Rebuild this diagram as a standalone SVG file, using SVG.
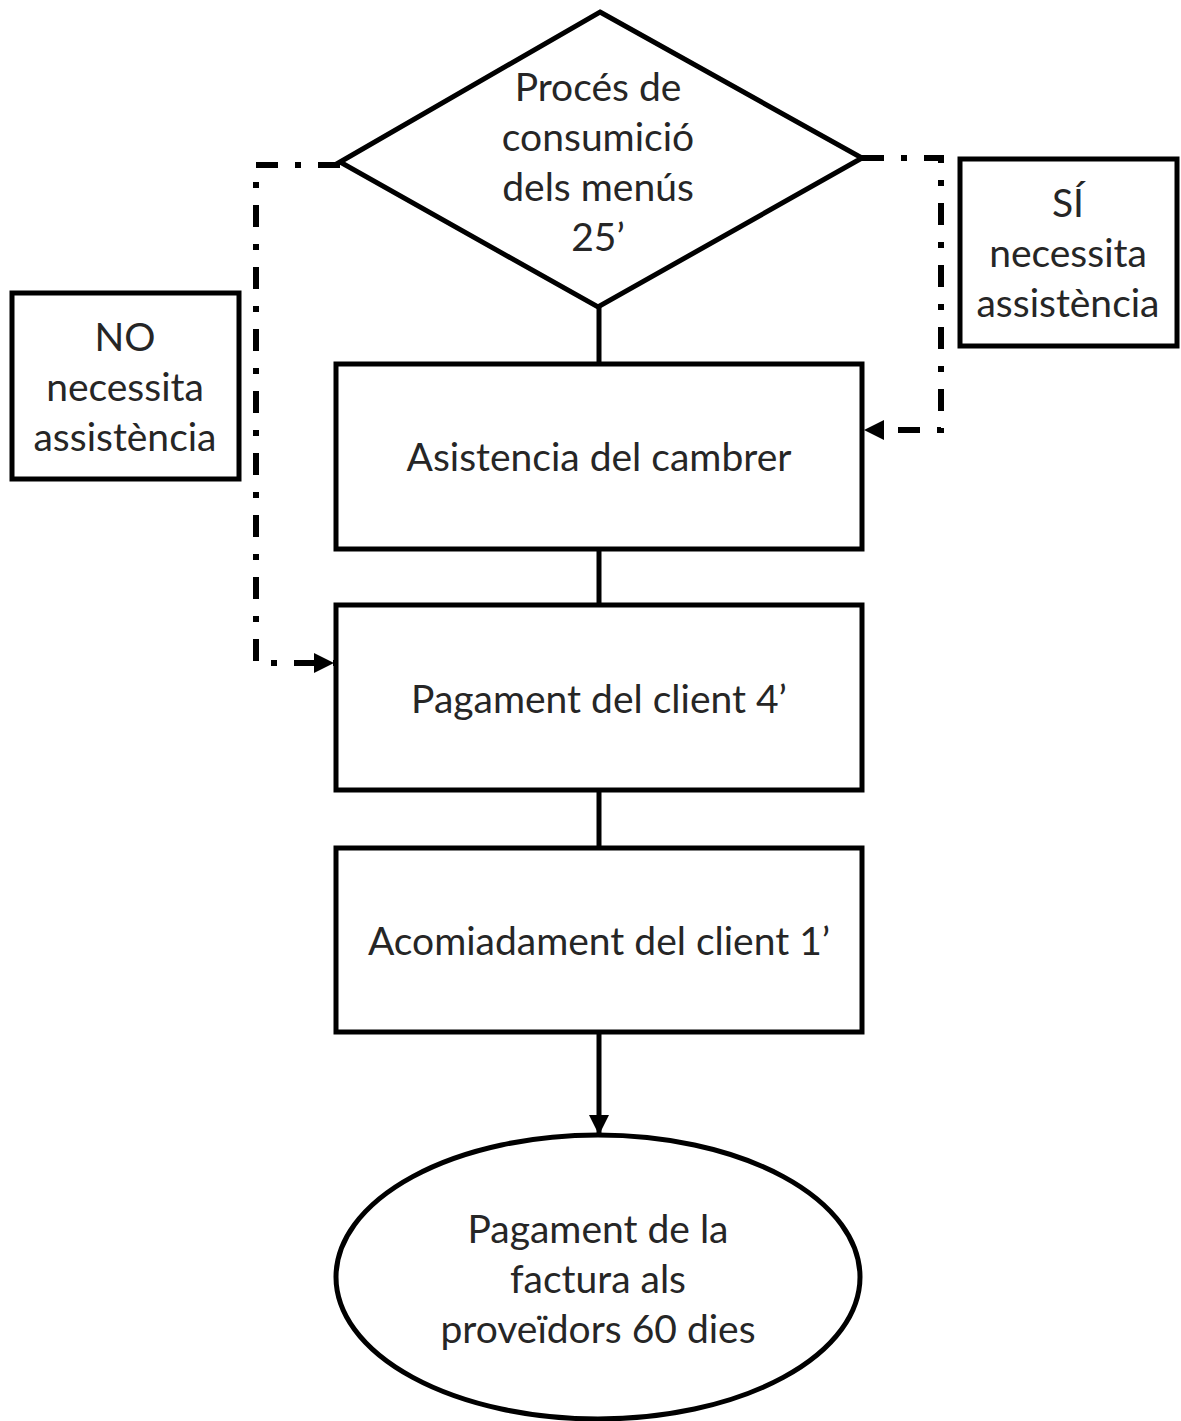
<svg xmlns="http://www.w3.org/2000/svg" width="1181" height="1421" viewBox="0 0 1181 1421">
  <defs>
    <style>
      .shape { fill: #ffffff; stroke: #000000; stroke-width: 5; }
      .link { fill: none; stroke: #000000; stroke-width: 5; }
      .dashdot { fill: none; stroke: #000000; stroke-width: 6; stroke-dasharray: 22 17 6 17; }
      .label { font-family: Lato, "Open Sans", sans-serif; font-size: 39px; fill: #262626; text-anchor: middle; }
    </style>
    <marker id="arrow" viewBox="0 0 10 10" refX="10" refY="5" markerWidth="4" markerHeight="4" orient="auto" markerUnits="strokeWidth">
      <path d="M0,0 L10,5 L0,10 Z" fill="#000000"/>
    </marker>
    <marker id="arrow-dd" viewBox="0 0 10 10" refX="10" refY="5" markerWidth="3.4" markerHeight="3.4" orient="auto" markerUnits="strokeWidth">
      <path d="M0,0 L10,5 L0,10 Z" fill="#000000"/>
    </marker>
  </defs>
  <rect width="1181" height="1421" fill="#ffffff"/>

  <!-- connectors -->
  <g id="connectors">
    <line class="link" x1="599" y1="307" x2="599" y2="364"/>
    <line class="link" x1="599" y1="549" x2="599" y2="605"/>
    <line class="link" x1="599" y1="790" x2="599" y2="848"/>
    <line class="link" x1="599" y1="1032" x2="599" y2="1135" marker-end="url(#arrow)"/>
    <!-- no assistance: skip straight to payment -->
    <path class="dashdot" d="M340,165 H256 V663 H334" marker-end="url(#arrow-dd)"/>
    <!-- assistance needed: waiter step -->
    <path class="dashdot" d="M862,158 H941 V430 H864" marker-end="url(#arrow-dd)"/>
  </g>

  <g id="decision">
    <polygon class="shape" points="600,12 862,158 598,307 340,162"/>
    <text class="label" x="598" y="101">Procés de</text>
    <text class="label" x="598" y="151">consumició</text>
    <text class="label" x="598" y="201">dels menús</text>
    <text class="label" x="598" y="251">25’</text>
  </g>

  <g id="waiter">
    <rect class="shape" x="336" y="364" width="526" height="185"/>
    <text class="label" x="599" y="471">Asistencia del cambrer</text>
  </g>

  <g id="payment">
    <rect class="shape" x="336" y="605" width="526" height="185"/>
    <text class="label" x="599" y="713">Pagament del client 4’</text>
  </g>

  <g id="farewell">
    <rect class="shape" x="336" y="848" width="526" height="184"/>
    <text class="label" x="599" y="955">Acomiadament del client 1’</text>
  </g>

  <g id="suppliers">
    <ellipse class="shape" cx="598" cy="1277" rx="262" ry="142"/>
    <text class="label" x="598" y="1243">Pagament de la</text>
    <text class="label" x="598" y="1293">factura als</text>
    <text class="label" x="598" y="1343">proveïdors 60 dies</text>
  </g>

  <g id="no-assist">
    <rect class="shape" x="12" y="293" width="227" height="186"/>
    <text class="label" x="125" y="351">NO</text>
    <text class="label" x="125" y="401">necessita</text>
    <text class="label" x="125" y="451">assistència</text>
  </g>

  <g id="yes-assist">
    <rect class="shape" x="960" y="159" width="217" height="187"/>
    <text class="label" x="1068" y="217">SÍ</text>
    <text class="label" x="1068" y="267">necessita</text>
    <text class="label" x="1068" y="317">assistència</text>
  </g>
</svg>
